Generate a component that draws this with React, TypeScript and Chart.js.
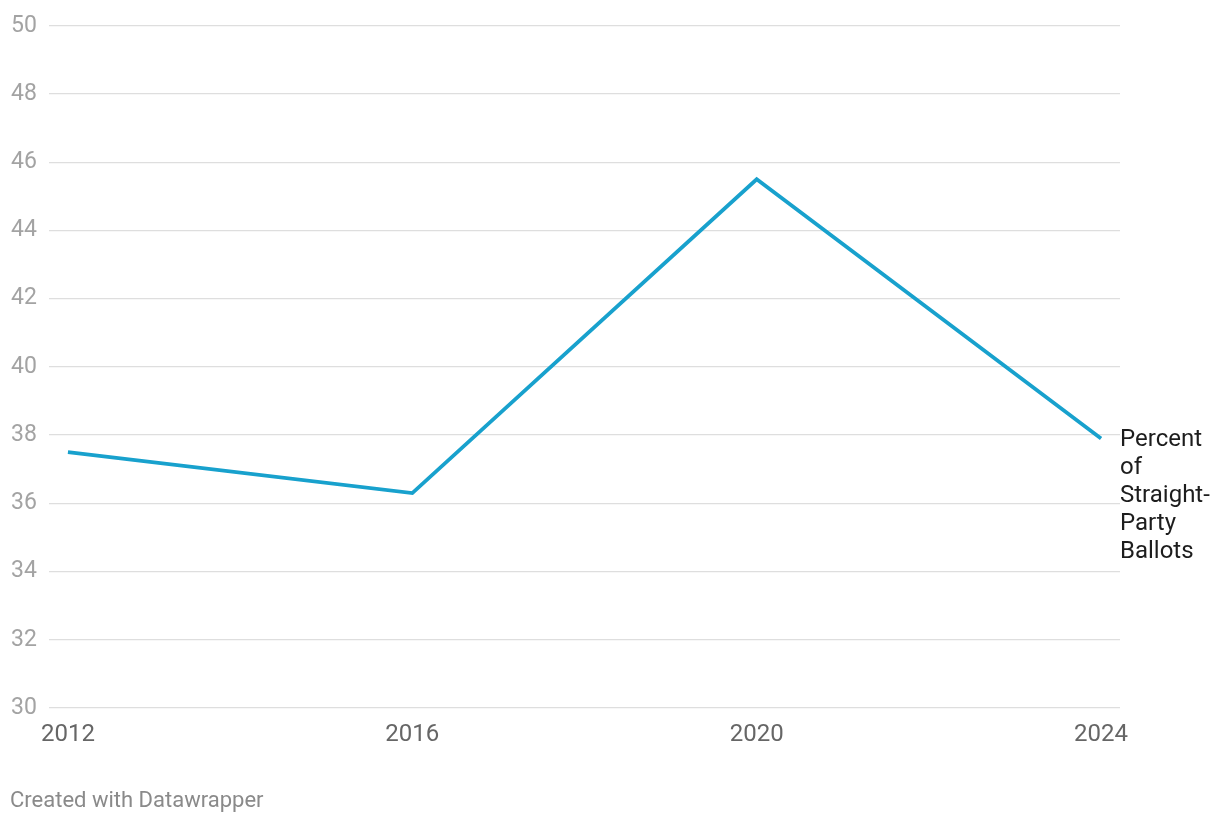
import React, { useEffect, useRef } from "react";
import { Chart, registerables } from "chart.js";

Chart.register(...registerables);

const years = [2012, 2016, 2020, 2024];
const straightPartyPct = [37.5, 36.3, 45.5, 37.9];
const yTicks = [30, 32, 34, 36, 38, 40, 42, 44, 46, 48, 50];
const seriesLabel = ["Percent", "of", "Straight-", "Party", "Ballots"];
const creditText = "Created with Datawrapper";

const FONT = "Roboto, 'Noto Sans', sans-serif";

const endLabelPlugin = {
  id: "endLabel",
  afterDatasetsDraw(chart: any) {
    const meta = chart.getDatasetMeta(0);
    const last = meta.data[meta.data.length - 1];
    if (!last) return;
    const ctx = chart.ctx;
    ctx.save();
    ctx.font = `24px ${FONT}`;
    ctx.fillStyle = "#1d1d1d";
    ctx.textAlign = "left";
    ctx.textBaseline = "middle";
    const x = chart.chartArea.right;
    seriesLabel.forEach((line, i) => {
      ctx.fillText(line, x, last.y + 1 + i * 28.2);
    });
    ctx.restore();
  },
};

export default function App() {
  const ref = useRef<HTMLCanvasElement | null>(null);

  useEffect(() => {
    if (!ref.current) return;
    const chart = new Chart(ref.current, {
      type: "line",
      data: {
        datasets: [
          {
            label: "Percent of Straight-Party Ballots",
            data: years.map((y, i) => ({ x: y, y: straightPartyPct[i] })),
            borderColor: "#18a1cd",
            borderWidth: 3.8,
            pointRadius: 0,
            tension: 0,
            fill: false,
          },
        ],
      },
      options: {
        animation: false,
        responsive: false,
        maintainAspectRatio: false,
        layout: { padding: { left: 11, right: 100, top: 24, bottom: 76 } },
        plugins: {
          legend: { display: false },
          tooltip: { enabled: false },
        },
        scales: {
          x: {
            type: "linear",
            min: 2011.78,
            max: 2024.22,
            afterBuildTicks: (scale: any) => {
              scale.ticks = years.map((v) => ({ value: v }));
            },
            afterFit: (scale: any) => {
              scale.height = 40;
            },
            grid: { display: false, drawTicks: false },
            border: { display: false },
            ticks: {
              padding: 13,
              maxRotation: 0,
              autoSkip: false,
              color: "#666666",
              font: { family: FONT, size: 24 },
              callback: (v: any) => String(v),
            },
          },
          y: {
            min: 30,
            max: 50,
            afterBuildTicks: (scale: any) => {
              scale.ticks = yTicks.map((v) => ({ value: v }));
            },
            afterFit: (scale: any) => {
              scale.width = 38;
            },
            grid: { color: "#dedede", lineWidth: 1.3, drawTicks: false },
            border: { display: false },
            ticks: {
              crossAlign: "far",
              padding: 12,
              color: "#a3a3a3",
              font: { family: FONT, size: 23 },
              callback: (v: any) => String(v),
            },
          },
        },
      },
      plugins: [endLabelPlugin],
    } as any);
    return () => chart.destroy();
  }, []);

  return (
    <div style={{ position: "fixed", left: 0, top: 0, width: 1220, height: 824, background: "#fff" }}>
      <canvas ref={ref} width={1220} height={824} style={{ display: "block", width: 1220, height: 824 }} />
      <div
        style={{
          position: "absolute",
          left: 10,
          top: 786,
          fontFamily: FONT,
          fontSize: 22,
          lineHeight: "28px",
          color: "#8a8a8a",
          whiteSpace: "nowrap",
        }}
      >
        {creditText}
      </div>
    </div>
  );
}
